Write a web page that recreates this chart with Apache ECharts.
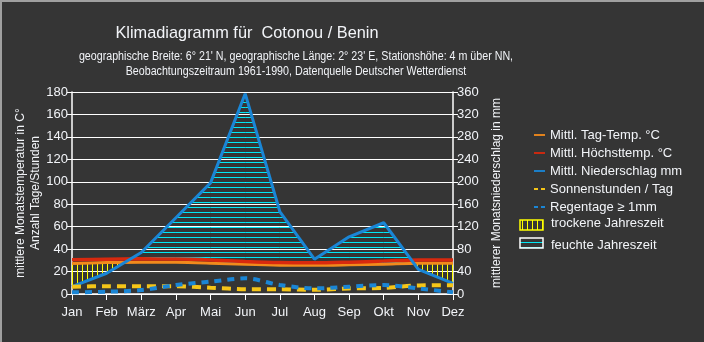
<!DOCTYPE html>
<html>
<head>
<meta charset="utf-8">
<script src="https://cdn.jsdelivr.net/npm/echarts@6/dist/echarts.min.js"></script>
<style>
  html, body { margin: 0; padding: 0; background: #353535; }
  #chart { width: 704px; height: 342px; box-sizing: border-box; border-top: 2px solid #a0a0a0; border-left: 2px solid #a0a0a0; }
</style>
</head>
<body>
<div id="chart"></div>
<script>
// Klimadiagramm Cotonou
var months = ['Jan', 'Feb', 'März', 'Apr', 'Mai', 'Jun', 'Jul', 'Aug', 'Sep', 'Okt', 'Nov', 'Dez']
var dayTemp = [27.2, 28.0, 28.4, 28.3, 27.5, 26.4, 25.7, 25.6, 26.0, 26.6, 27.4, 27.3]
var maxTemp = [30.5, 31.0, 31.3, 31.2, 30.4, 29.0, 28.0, 27.8, 28.4, 29.3, 30.4, 30.4]
var rain = [13, 37, 74, 136, 198, 357, 147, 62, 102, 127, 44, 19]
var sunHours = [6.5, 7.0, 7.0, 7.0, 5.6, 4.3, 4.2, 3.8, 5.0, 5.4, 7.6, 7.8]
var rainDays = [1.5, 2.0, 3.5, 8.0, 11.0, 14.0, 8.0, 5.0, 6.5, 8.0, 5.0, 1.5]
var leftTicks = [0, 180, 20]
var rightTicks = [0, 360, 40]

var textColor = '#f2f4f8'
var font = 'Liberation Sans, Arial, sans-serif'
var lineIcon = 'path://M0,0 H12 V2 H0 Z'
var dashIcon = 'path://M0,0 H4 V2 H0 Z M7,0 H11 V2 H7 Z'

function hatch(color, vertical) {
  var c = document.createElement('canvas')
  c.width = 5
  c.height = 5
  var g = c.getContext('2d')
  g.fillStyle = color
  if (vertical) g.fillRect(0, 0, 1, 5)
  else g.fillRect(0, 0, 5, 1)
  return c
}
var dryPattern = { image: hatch('#ffff00', true), repeat: 'repeat' }
var wetPattern = { image: hatch('#00e8f4', false), repeat: 'repeat' }

// fills between precip line and 2x temperature (right axis)
function renderFill(params, api) {
  var i = api.value(0)
  if (i >= months.length - 1) return
  var a0 = api.coord([i, rain[i]])
  var a1 = api.coord([i + 1, rain[i + 1]])
  var b0 = api.coord([i, dayTemp[i] * 2])
  var b1 = api.coord([i + 1, dayTemp[i + 1] * 2])
  var d0 = b0[1] - a0[1]
  var d1 = b1[1] - a1[1]
  var wet = [], dry = []
  if (d0 >= 0 && d1 >= 0) {
    wet.push([a0, a1, b1, b0])
  } else if (d0 <= 0 && d1 <= 0) {
    dry.push([b0, b1, a1, a0])
  } else {
    var t = d0 / (d0 - d1)
    var c = [a0[0] + (a1[0] - a0[0]) * t, a0[1] + (a1[1] - a0[1]) * t]
    if (d0 > 0) {
      wet.push([a0, c, b0])
      dry.push([c, b1, a1])
    } else {
      dry.push([b0, c, a0])
      wet.push([c, a1, b1])
    }
  }
  var children = []
  wet.forEach(function (pts) {
    children.push({ type: 'polygon', shape: { points: pts }, style: { fill: wetPattern, stroke: null } })
  })
  dry.forEach(function (pts) {
    children.push({ type: 'polygon', shape: { points: pts }, style: { fill: dryPattern, stroke: null } })
  })
  return { type: 'group', children: children }
}

var chart = echarts.init(document.getElementById('chart'))
var option = {
  backgroundColor: '#353535',
  animation: false,
  textStyle: { fontFamily: font },
  grid: { left: 70, right: 251, top: 90, bottom: 48, outerBoundsMode: 'none', containLabel: false },
  legend: {
    orient: 'vertical',
    left: 527,
    top: 121,
    itemWidth: 11,
    itemHeight: 3,
    itemGap: 4,
    textStyle: { color: textColor, fontSize: 13, lineHeight: 14, fontFamily: font },
    data: [
      { name: 'Mittl. Tag-Temp. °C', icon: lineIcon },
      { name: 'Mittl. Höchsttemp. °C', icon: lineIcon },
      { name: 'Mittl. Niederschlag mm', icon: lineIcon },
      { name: 'Sonnenstunden / Tag', icon: dashIcon },
      { name: 'Regentage ≥ 1mm', icon: dashIcon }
    ]
  },
  graphic: [
    { type: 'text', x: 245, y: 31, scaleX: 0.96, style: { text: 'Klimadiagramm für  Cotonou / Benin', fill: textColor, align: 'center', verticalAlign: 'middle', font: '17px ' + font } },
    { type: 'text', x: 294, y: 55, scaleX: 0.89, style: { text: "geographische Breite: 6° 21' N, geographische Länge: 2° 23' E, Stationshöhe: 4 m über NN,", fill: textColor, align: 'center', verticalAlign: 'middle', font: '12px ' + font } },
    { type: 'text', x: 294, y: 70, scaleX: 0.89, style: { text: 'Beobachtungszeitraum 1961-1990, Datenquelle Deutscher Wetterdienst', fill: textColor, align: 'center', verticalAlign: 'middle', font: '12px ' + font } },
    { type: 'rect', shape: { x: 518, y: 218, width: 23, height: 10 }, style: { fill: dryPattern, stroke: '#ffff00', lineWidth: 1.5 } },
    { type: 'text', x: 549, y: 221, style: { text: 'trockene Jahreszeit', fill: textColor, verticalAlign: 'middle', font: '13px ' + font } },
    { type: 'rect', shape: { x: 518, y: 236, width: 23, height: 10 }, style: { fill: wetPattern, stroke: '#ffffff', lineWidth: 1.5 } },
    { type: 'text', x: 549, y: 243, style: { text: 'feuchte Jahreszeit', fill: textColor, verticalAlign: 'middle', font: '13px ' + font } }
  ],
  xAxis: {
    type: 'category',
    data: months,
    boundaryGap: false,
    axisLine: { lineStyle: { color: '#ffffff', width: 1.5 } },
    axisTick: { show: true, length: 6, interval: 0, lineStyle: { color: '#ffffff' } },
    axisLabel: { color: textColor, fontSize: 13, margin: 12, interval: 0 },
    splitLine: { show: false }
  },
  yAxis: [
    {
      type: 'value',
      min: leftTicks[0],
      max: leftTicks[1],
      interval: leftTicks[2],
      name: 'mittlere Monatstemperatur in C°\nAnzahl Tage/Stunden',
      nameLocation: 'middle',
      nameRotate: 90,
      nameGap: 29,
      nameMoveOverlap: false,
      nameTextStyle: { color: textColor, fontSize: 12, lineHeight: 15 },
      axisLine: { show: true, lineStyle: { color: '#ffffff', width: 1.5 } },
      axisTick: { show: true, length: 5, lineStyle: { color: '#ffffff' } },
      axisLabel: { color: textColor, fontSize: 13, margin: 4 },
      splitLine: { show: true, lineStyle: { color: '#ffffff', width: 1 } }
    },
    {
      type: 'value',
      min: rightTicks[0],
      max: rightTicks[1],
      interval: rightTicks[2],
      name: 'mittlerer Monatsniederschlag in mm',
      nameLocation: 'middle',
      nameRotate: 90,
      nameGap: 38,
      nameMoveOverlap: false,
      nameTextStyle: { color: textColor, fontSize: 12 },
      axisLine: { show: true, lineStyle: { color: '#ffffff', width: 1.5 } },
      axisTick: { show: true, length: 5, lineStyle: { color: '#ffffff' } },
      axisLabel: { color: textColor, fontSize: 13, margin: 4 },
      splitLine: { show: false }
    }
  ],
  series: [
    {
      name: 'fill',
      type: 'custom',
      yAxisIndex: 1,
      renderItem: renderFill,
      data: months.map(function (m, i) { return [i] }),
      z: 1,
      silent: true
    },
    {
      name: 'Mittl. Niederschlag mm',
      type: 'line',
      yAxisIndex: 1,
      data: rain,
      symbol: 'none',
      lineStyle: { color: '#1a86d6', width: 3 },
      itemStyle: { color: '#1a86d6' },
      z: 4
    },
    {
      name: 'Mittl. Tag-Temp. °C',
      type: 'line',
      data: dayTemp,
      symbol: 'none',
      smooth: 0.3,
      lineStyle: { color: '#f28a1c', width: 3 },
      itemStyle: { color: '#f28a1c' },
      z: 3
    },
    {
      name: 'Mittl. Höchsttemp. °C',
      type: 'line',
      data: maxTemp,
      symbol: 'none',
      smooth: 0.3,
      lineStyle: { color: '#d8290e', width: 3.5 },
      itemStyle: { color: '#d8290e' },
      z: 3
    },
    {
      name: 'Sonnenstunden / Tag',
      type: 'line',
      data: sunHours,
      symbol: 'none',
      smooth: 0.3,
      lineStyle: { color: '#f5c518', width: 4, type: [9, 6] },
      itemStyle: { color: '#f5c518' },
      z: 5
    },
    {
      name: 'Regentage ≥ 1mm',
      type: 'line',
      data: rainDays,
      symbol: 'none',
      smooth: 0.3,
      lineStyle: { color: '#1a86d6', width: 4, type: [7, 6] },
      itemStyle: { color: '#1a86d6' },
      z: 5
    }
  ]
}
option && chart.setOption(option)
</script>
</body>
</html>
